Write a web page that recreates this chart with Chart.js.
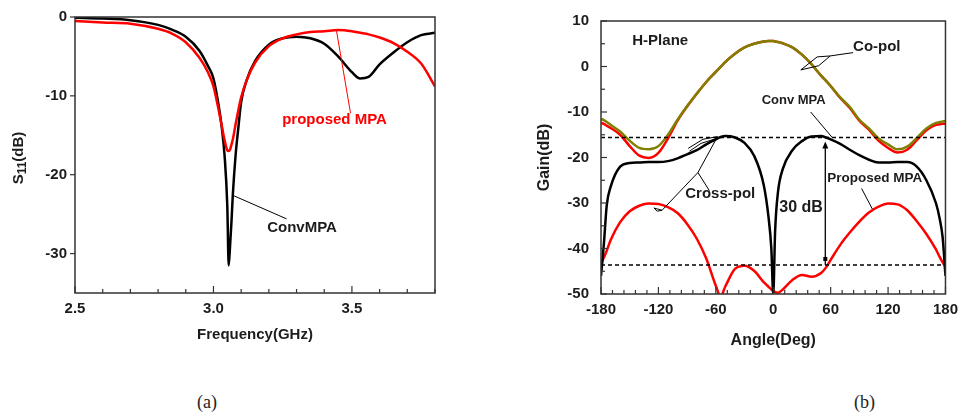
<!DOCTYPE html>
<html>
<head>
<meta charset="utf-8">
<script src="https://cdn.jsdelivr.net/npm/chart.js@4/dist/chart.umd.min.js"></script>
<style>
  body { margin: 0; background: #fff; width: 965px; height: 414px; position: relative; overflow: hidden; }
  canvas { position: absolute; top: 0; }
  #s11 { left: 0; }
  #gain { left: 480px; }
  .cap { position: absolute; top: 392px; font: 18px "Liberation Serif", "DejaVu Serif", serif; color: #222; }
</style>
</head>
<body>
<canvas id="s11" width="480" height="360"></canvas>
<canvas id="gain" width="485" height="360"></canvas>
<div class="cap" style="left:197px">(a)</div>
<div class="cap" style="left:854px">(b)</div>
<script>
// (a) return loss
const freqGHz = [2.50, 2.60, 2.70, 2.80, 2.85, 2.90, 2.95, 2.98, 3.00, 3.02, 3.03, 3.04, 3.05, 3.055, 3.06, 3.065, 3.07, 3.08, 3.09, 3.10, 3.12, 3.15, 3.20, 3.25, 3.30, 3.35, 3.40, 3.45, 3.50, 3.53, 3.56, 3.60, 3.65, 3.70, 3.75, 3.80];
const s11Conv = [-0.1, -0.2, -0.4, -1.0, -1.6, -2.5, -4.3, -6.2, -7.8, -11.5, -14.0, -17.5, -24.0, -31.5, -29.0, -26.0, -22.5, -17.5, -14.0, -10.8, -8.0, -5.6, -3.5, -2.7, -2.5, -2.7, -3.4, -5.0, -7.0, -7.8, -7.6, -6.0, -4.5, -3.2, -2.3, -2.0];
const s11Proposed = [-0.5, -0.7, -0.85, -1.5, -2.1, -3.2, -5.2, -7.0, -8.8, -12.0, -13.8, -15.6, -16.9, -17.0, -16.8, -16.2, -15.5, -13.6, -11.8, -10.2, -8.0, -5.8, -3.7, -2.7, -2.2, -1.9, -1.8, -1.65, -1.8, -2.0, -2.2, -2.6, -3.3, -4.4, -5.9, -8.8];
const freqTickLabels = [2.5, 3.0, 3.5];

// (b) H-plane pattern
const angleDeg = [-180, -177, -174, -170, -160, -150, -140, -130, -120, -110, -100, -90, -80, -70, -60, -55, -50, -40, -30, -20, -10, -5, -2, 0, 2, 5, 10, 20, 30, 40, 50, 55, 60, 70, 80, 90, 100, 110, 120, 130, 140, 150, 160, 170, 174, 177, 180];
const coPolConv = [-11.5, -11.8, -12.2, -12.8, -14.3, -16.3, -17.9, -18.2, -17.5, -15.0, -11.7, -8.7, -6.0, -3.4, -1.2, -0.1, 1.0, 2.8, 4.2, 5.0, 5.5, 5.6, 5.6, 5.6, 5.5, 5.4, 5.1, 4.2, 2.6, 0.5, -2.0, -3.1, -4.3, -6.8, -8.9, -11.7, -13.6, -15.8, -17.1, -18.2, -17.6, -15.7, -13.6, -12.4, -12.2, -12.1, -12.0];
const coPolProposed = [-12.4, -12.6, -13.0, -13.5, -15.0, -17.5, -19.6, -20.1, -19.0, -15.8, -11.9, -8.8, -6.0, -3.4, -1.2, -0.1, 1.0, 2.8, 4.2, 5.0, 5.5, 5.6, 5.6, 5.6, 5.5, 5.4, 5.1, 4.2, 2.6, 0.5, -2.0, -3.1, -4.3, -6.9, -9.1, -11.9, -13.9, -16.3, -17.9, -18.9, -18.3, -16.2, -14.0, -12.8, -12.7, -12.6, -12.6];
const crossPolConv = [-46.0, -39.0, -30.5, -26.5, -22.0, -21.2, -21.1, -21.0, -21.0, -20.8, -20.2, -19.3, -18.4, -17.1, -16.0, -15.5, -15.3, -15.6, -16.8, -19.6, -26.0, -33.0, -40.0, -50.0, -36.0, -27.5, -22.5, -18.4, -16.4, -15.4, -15.3, -15.6, -16.0, -17.0, -18.3, -19.5, -20.5, -21.1, -21.1, -21.0, -21.0, -22.0, -25.0, -30.0, -33.5, -37.5, -46.0];
const crossPolProposed = [-43.4, -42.0, -40.5, -38.2, -34.2, -31.8, -30.6, -30.1, -30.2, -30.9, -32.2, -34.6, -37.8, -42.2, -48.2, -50.5, -48.3, -44.5, -43.8, -44.9, -47.4, -48.4, -49.0, -49.3, -49.6, -49.7, -49.0, -46.9, -45.8, -46.2, -45.4, -44.2, -42.5, -39.2, -36.5, -34.1, -32.1, -30.8, -30.1, -30.3, -31.6, -34.0, -36.8, -40.2, -41.9, -43.0, -44.1];
const angleTickLabels = [-180, -120, -60, 0, 60, 120, 180];
const levelLines = [-15.6, -43.6];   // the two dotted levels, 30 dB apart

const FAMILY = '"Liberation Sans", Arial, sans-serif';
const TEXT = '#1c1c1c';
const RED = '#ff0000';
const OLIVE = '#808000';

const font = size => ({ family: FAMILY, size, weight: 'bold' });
const near = (v, list) => list.some(t => Math.abs(t - v) < 1e-6);
const isMult = (v, m) => Math.abs(v / m - Math.round(v / m)) < 1e-6;
const pts = (xs, ys) => xs.map((x, i) => ({ x, y: ys[i] }));

// frame, inward ticks, leader lines and labels, all placed through the chart scales
function decor(cfg) {
  return {
    id: 'decor',
    afterDatasetsDraw(chart) {
      const { ctx, chartArea: a, scales: { x, y } } = chart;
      const px = v => x.getPixelForValue(v);
      const py = v => y.getPixelForValue(v);
      const seg = (x1, y1, x2, y2) => { ctx.beginPath(); ctx.moveTo(x1, y1); ctx.lineTo(x2, y2); ctx.stroke(); };
      ctx.save();

      ctx.strokeStyle = '#000';
      ctx.lineWidth = 1.5;
      ctx.setLineDash([4, 3]);
      (cfg.levels || []).forEach(l => seg(a.left, py(l), a.right, py(l)));
      ctx.setLineDash([]);

      ctx.lineWidth = 1;
      (cfg.leaders || []).forEach(ld => {
        ctx.strokeStyle = ld.color || '#000';
        ctx.beginPath();
        ld.pts.forEach(([u, v], i) => i ? ctx.lineTo(px(u), py(v)) : ctx.moveTo(px(u), py(v)));
        ctx.stroke();
      });

      if (cfg.arrow) {
        const { at, from, to, mark } = cfg.arrow;
        const X = px(at), Y1 = py(from), Y2 = py(to);
        ctx.strokeStyle = '#000';
        ctx.fillStyle = '#000';
        ctx.lineWidth = 1.3;
        seg(X, Y1 + 4, X, Y2);
        ctx.beginPath();
        ctx.moveTo(X, Y1); ctx.lineTo(X - 3, Y1 + 7); ctx.lineTo(X + 3, Y1 + 7);
        ctx.closePath(); ctx.fill();
        ctx.fillRect(X - 2, py(mark) - 2, 4, 4);
      }

      ctx.strokeStyle = '#333';
      ctx.lineWidth = 1.2;
      x.ticks.forEach(t => {
        const X = px(t.value);
        const len = isMult(t.value, cfg.xMajor) ? 7 : 4;
        seg(X, a.bottom, X, a.bottom - len);
      });
      y.ticks.forEach(t => {
        const Y = py(t.value);
        if (cfg.yOut) {
          if (isMult(t.value, cfg.yMajor)) seg(a.left - 5, Y, a.left, Y);
        } else {
          seg(a.left, Y, a.left + (isMult(t.value, cfg.yMajor) ? 6 : 4), Y);
        }
      });
      ctx.lineWidth = 1.5;
      ctx.strokeRect(a.left, a.top, a.right - a.left, a.bottom - a.top);

      ctx.textAlign = 'left';
      ctx.textBaseline = 'middle';
      (cfg.notes || []).forEach(n => {
        ctx.font = `bold ${n.size}px ${FAMILY}`;
        ctx.fillStyle = n.color || TEXT;
        ctx.fillText(n.text, px(n.x), py(n.y));
      });

      if (cfg.yTitle) {
        // S11(dB) with a subscript, rotated
        ctx.translate(cfg.yTitle.cx, (a.top + a.bottom) / 2 + 3);
        ctx.rotate(-Math.PI / 2);
        ctx.fillStyle = TEXT;
        const big = `bold 15px ${FAMILY}`, small = `bold 12px ${FAMILY}`;
        ctx.font = big; const wS = ctx.measureText('S').width, wT = ctx.measureText('(dB)').width;
        ctx.font = small; const wSub = ctx.measureText('11').width;
        let cx = -(wS + wSub + wT) / 2;
        ctx.font = big; ctx.fillText('S', cx, 0); cx += wS;
        ctx.font = small; ctx.fillText('11', cx, 4); cx += wSub;
        ctx.font = big; ctx.fillText('(dB)', cx, 0);
      }
      ctx.restore();
    }
  };
}

const common = {
  responsive: false,
  animation: false,
  elements: { point: { radius: 0 }, line: { cubicInterpolationMode: 'monotone', borderWidth: 2.5 } },
  plugins: { legend: { display: false }, tooltip: { enabled: false } }
};

new Chart(document.getElementById('s11'), {
  type: 'line',
  data: {
    datasets: [
      { label: 'proposed MPA', data: pts(freqGHz, s11Proposed), borderColor: RED },
      { label: 'ConvMPA', data: pts(freqGHz, s11Conv), borderColor: '#000' }
    ]
  },
  options: {
    ...common,
    layout: { padding: { left: 0, right: 45, top: 15, bottom: 0 } },
    scales: {
      x: {
        type: 'linear', min: 2.5, max: 3.8,
        grid: { display: false, drawTicks: false }, border: { display: false },
        ticks: {
          stepSize: 0.1, padding: 7, color: TEXT, font: font(15), maxRotation: 0, autoSkip: false,
          callback: v => near(v, freqTickLabels) ? v.toFixed(1) : ''
        },
        title: { display: true, text: 'Frequency(GHz)', color: TEXT, font: font(15), padding: { top: 0, bottom: 16 } },
        afterFit: s => { s.height = 67; }
      },
      y: {
        min: -35, max: 0,
        grid: { display: false, drawTicks: false }, border: { display: false },
        ticks: {
          stepSize: 5, padding: 8, color: TEXT, font: font(15), autoSkip: false,
          callback: v => isMult(v, 10) ? String(v) : ''
        },
        afterFit: s => { s.width = 75; }
      }
    }
  },
  plugins: [decor({
    xMajor: 0.5, yMajor: 10, yOut: true,
    yTitle: { cx: 19 },
    notes: [
      { text: 'proposed MPA', x: 3.248, y: -13.1, size: 15, color: RED },
      { text: 'ConvMPA', x: 3.194, y: -26.8, size: 15 }
    ],
    leaders: [
      { color: RED, pts: [[3.495, -12.2], [3.444, -1.7]] },
      { pts: [[3.264, -25.6], [3.069, -22.6]] }
    ]
  })]
});

new Chart(document.getElementById('gain'), {
  type: 'line',
  data: {
    datasets: [
      { label: 'Co-pol Conv MPA', data: pts(angleDeg, coPolConv), borderColor: OLIVE },
      { label: 'Cross-pol Conv MPA', data: pts(angleDeg, crossPolConv), borderColor: '#000' },
      { label: 'Co-pol Proposed MPA', data: pts(angleDeg, coPolProposed), borderColor: RED },
      { label: 'Cross-pol Proposed MPA', data: pts(angleDeg, crossPolProposed), borderColor: RED }
    ]
  },
  options: {
    ...common,
    layout: { padding: { left: 0, right: 12.3, top: 15, bottom: 0 } },
    scales: {
      x: {
        type: 'linear', min: -180, max: 180,
        grid: { display: false, drawTicks: false }, border: { display: false },
        ticks: {
          stepSize: 12, padding: 7, color: TEXT, font: font(15), maxRotation: 0, autoSkip: false,
          callback: v => near(v, angleTickLabels) ? String(v) : ''
        },
        title: { display: true, text: 'Angle(Deg)', color: TEXT, font: font(16), padding: { top: 0, bottom: 10 } },
        afterFit: s => { s.height = 66; }
      },
      y: {
        min: -50, max: 10,
        grid: { display: false, drawTicks: false }, border: { display: false },
        ticks: {
          stepSize: 5, padding: 12, color: TEXT, font: font(15), autoSkip: false,
          callback: v => isMult(v, 10) ? String(v) : ''
        },
        title: { display: true, text: 'Gain(dB)', color: TEXT, font: font(16), padding: { top: 55 } },
        afterFit: s => { s.width = 121; }
      }
    }
  },
  plugins: [decor({
    xMajor: 60, yMajor: 10, yOut: false,
    levels: levelLines,
    arrow: { at: 54.4, from: -16.5, to: -43.6, mark: -42.3 },
    notes: [
      { text: 'H-Plane', x: -147.3, y: 5.7, size: 15 },
      { text: 'Co-pol', x: 83.4, y: 4.4, size: 15 },
      { text: 'Conv MPA', x: -12.1, y: -7.4, size: 13 },
      { text: 'Proposed MPA', x: 56.5, y: -24.6, size: 13.5 },
      { text: 'Cross-pol', x: -92, y: -28.1, size: 15 },
      { text: '30 dB', x: 6.3, y: -31.1, size: 16 }
    ],
    leaders: [
      { pts: [[83.4, 3.05], [59.5, 2.32]] },
      { pts: [[59.5, 2.32], [45.9, 2.11], [28.8, -0.75], [47.5, 0.17], [59.5, 2.32]] },
      { pts: [[39.1, -10.0], [61.6, -15.6]] },
      { pts: [[92.3, -26.8], [103.5, -31.3]] },
      { pts: [[-66.7, -27.3], [-78.7, -23.3], [-58.2, -15.4]] },
      { pts: [[-78.7, -23.3], [-116.2, -31.6]] },
      { pts: [[-58.2, -15.4], [-73.5, -16.0], [-88.9, -18.0]] },
      { pts: [[-60.5, -15.9], [-75.5, -16.9], [-87.5, -18.6]] },
      { pts: [[-116.2, -31.6], [-124.7, -31.1], [-121.3, -31.8], [-116.2, -31.6]] }
    ]
  })]
});
</script>
</body>
</html>
